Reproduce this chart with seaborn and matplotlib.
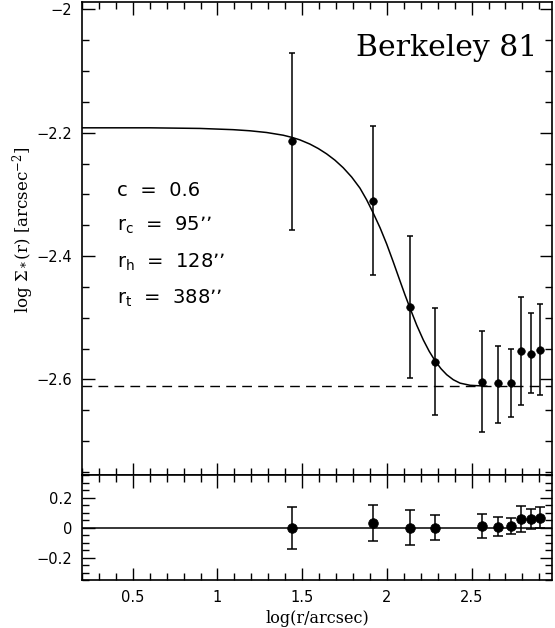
import matplotlib
matplotlib.use('Agg')
import matplotlib.pyplot as plt
from matplotlib.ticker import MultipleLocator, FuncFormatter
import numpy as np
import seaborn as sns

# radial density profile
log_r = [1.439, 1.918, 2.137, 2.284, 2.560, 2.655, 2.732, 2.793, 2.850, 2.903]
log_sigma = [-2.2135, -2.310, -2.483, -2.571, -2.6035, -2.606, -2.606, -2.554, -2.558, -2.552]
sigma_hi = [-2.071, -2.189, -2.367, -2.484, -2.521, -2.545, -2.551, -2.466, -2.493, -2.477]
sigma_lo = [-2.358, -2.431, -2.598, -2.657, -2.686, -2.670, -2.661, -2.642, -2.622, -2.626]

# King fit curve, sampled from the figure
curve_x = [0.20, 0.60, 0.896, 1.092, 1.191, 1.290, 1.388, 1.439, 1.486, 1.545,
           1.595, 1.644, 1.693, 1.742, 1.792, 1.841, 1.880, 1.919, 1.960, 1.999,
           2.037, 2.077, 2.107, 2.136, 2.176, 2.215, 2.250, 2.286, 2.320, 2.353,
           2.392, 2.432, 2.491, 2.591]
curve_y = [-2.192, -2.192, -2.193, -2.1950, -2.1968, -2.1996, -2.2040, -2.2075, -2.2115, -2.2183,
           -2.2256, -2.2342, -2.2444, -2.2567, -2.2718, -2.2898, -2.3085, -2.3300, -2.3543, -2.3806,
           -2.4090, -2.4400, -2.4630, -2.4840, -2.5120, -2.5360, -2.5545, -2.5705, -2.5828, -2.5923,
           -2.6005, -2.6060, -2.6095, -2.6110]
background = -2.611

# residuals
resid = [0.0, 0.032, 0.0, 0.0, 0.010, 0.005, 0.010, 0.059, 0.055, 0.063]
resid_hi = [0.139, 0.150, 0.117, 0.085, 0.092, 0.068, 0.063, 0.145, 0.121, 0.135]
resid_lo = [-0.143, -0.088, -0.115, -0.086, -0.070, -0.055, -0.045, -0.028, -0.010, -0.005]

fit_labels = ['c  =  0.6', 'r$_\\mathrm{c}$  =  95\u2019\u2019', 'r$_\\mathrm{h}$  =  128\u2019\u2019',
              'r$_\\mathrm{t}$  =  388\u2019\u2019']

sns.set_style('ticks')
plt.rcParams['font.family'] = ['DejaVu Sans']
plt.rcParams['mathtext.default'] = 'regular'
for k in ('text.color', 'axes.labelcolor', 'xtick.color', 'ytick.color', 'axes.edgecolor'):
    plt.rcParams[k] = 'black'

fig = plt.figure(figsize=(5.55, 6.28), dpi=100)
ax = fig.add_axes([0.1477, 0.2436, 0.847, 0.7532])
axr = fig.add_axes([0.1477, 0.0764, 0.847, 0.1672], sharex=ax)

ls = np.array(log_sigma)
yerr = [ls - np.array(sigma_lo), np.array(sigma_hi) - ls]
ax.errorbar(log_r, log_sigma, yerr=yerr, fmt='none', ecolor='black', elinewidth=1.1,
            capsize=2.4, capthick=1.1)
sns.scatterplot(x=log_r, y=log_sigma, ax=ax, color='black', s=30, edgecolor='black', zorder=3)
sns.lineplot(x=curve_x, y=curve_y, ax=ax, color='black', lw=1.1, sort=False, estimator=None)
ax.axhline(background, color='black', lw=1.0, ls=(0, (7, 4.5)))

ax.text(0.968, 0.903, 'Berkeley 81', transform=ax.transAxes, ha='right', va='center',
        fontsize=21.5, family='DejaVu Serif')
ypos = [0.6025, 0.5285, 0.4503, 0.3742]
for lab, yy in zip(fit_labels, ypos):
    ax.text(0.0745, yy, lab, transform=ax.transAxes, ha='left', va='center', fontsize=14)

rr = np.array(resid)
rerr = [rr - np.array(resid_lo), np.array(resid_hi) - rr]
axr.axhline(0, color='black', lw=1.1)
axr.errorbar(log_r, resid, yerr=rerr, fmt='none', ecolor='black', elinewidth=1.1,
             capsize=3.6, capthick=1.1)
sns.scatterplot(x=log_r, y=resid, ax=axr, color='black', s=48, edgecolor='black', zorder=3)

ax.set_xlim(0.2, 2.975)
ax.set_ylim(-2.755, -1.988)
axr.set_ylim(-0.35, 0.35)

fmt = FuncFormatter(lambda v, p: ('%g' % round(v, 3)).replace('-', '\u2212'))
for a in (ax, axr):
    a.xaxis.set_major_locator(MultipleLocator(0.5))
    a.xaxis.set_minor_locator(MultipleLocator(0.1))
    a.tick_params(which='both', direction='in', top=True, right=True, labelsize=10.5, pad=7)
    a.tick_params(which='major', length=9, width=1.0)
    a.tick_params(which='minor', length=5, width=1.0)
    for s in a.spines.values():
        s.set_linewidth(1.2)
    a.yaxis.set_major_formatter(fmt)
    a.xaxis.set_major_formatter(fmt)
ax.yaxis.set_major_locator(MultipleLocator(0.2))
ax.yaxis.set_minor_locator(MultipleLocator(0.05))
axr.yaxis.set_major_locator(MultipleLocator(0.2))
axr.yaxis.set_minor_locator(MultipleLocator(0.05))
ax.tick_params(labelbottom=False)

ax.set_ylabel(r'log $\Sigma_*$(r) [arcsec$^{-2}$]', family='DejaVu Serif', fontsize=12)
ax.yaxis.set_label_coords(-0.097, 0.518)
axr.set_xlabel('log(r/arcsec)', family='DejaVu Serif', fontsize=11.5, labelpad=4)

fig.savefig('out.png', dpi=100)
